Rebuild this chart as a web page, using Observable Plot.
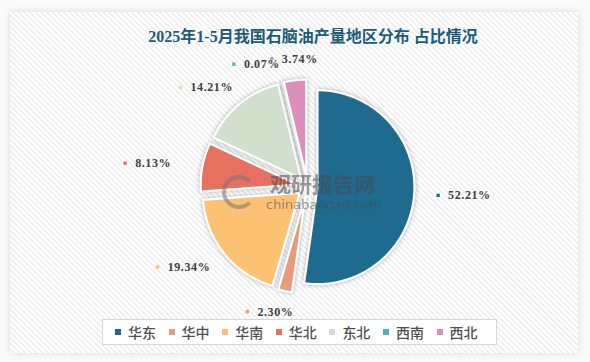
<!DOCTYPE html>
<html>
<head>
<meta charset="utf-8">
<script src="https://cdn.jsdelivr.net/npm/d3@7"></script>
<script src="https://cdn.jsdelivr.net/npm/@observablehq/plot@0.6"></script>
<style>
  html, body { margin: 0; padding: 0; background: #ffffff; }
  #root { position: relative; width: 590px; height: 362px; overflow: hidden; background: #fafafa; }
  #panel { position: absolute; left: 10px; top: 12px; width: 568px; height: 341px;
    background: repeating-linear-gradient(45deg, #ffffff 0px, #ffffff 2px, #ececec 2.6px, #ececec 3.4px, #ffffff 4px);
    box-shadow: 0 0 7px rgba(0,0,0,0.13); }
  #title { position: absolute; left: 18px; top: 27px; width: 590px; text-align: center;
    font-family: "Liberation Serif", "Noto Sans CJK SC", serif; font-weight: bold; font-size: 16px;
    line-height: 20px; color: #1d5b79; }
  #chart { position: absolute; left: 0; top: 0; }
  #wm { position: absolute; left: 222px; top: 168px; opacity: 0.55; color: #4a4a4a; pointer-events: none; }
  #wm .logo { position: absolute; left: 0px; top: 7px; width: 26px; height: 26px; border: 4px solid #777; border-radius: 50%; border-right-color: transparent; }
  #wm .cn { position: absolute; left: 48px; top: 3px; font-family: "Noto Sans CJK SC", sans-serif; font-weight: bold; font-size: 21px; line-height: 25px; white-space: nowrap; }
  #wm .en { position: absolute; left: 44px; top: 30px; font-family: "DejaVu Sans", sans-serif; font-size: 13px; line-height: 14px; white-space: nowrap; }
  #legend { position: absolute; left: 102px; top: 319px; width: 381px; height: 24px; border: 1px solid #d6d6d6; background: #ffffff;
    display: flex; align-items: center; padding-left: 12px; box-sizing: content-box; }
  #legend .item { display: flex; align-items: center; width: 53.6px; font-family: "Noto Sans CJK SC", sans-serif; font-weight: 500; font-size: 14px; line-height: 18px; color: #505050; }
  #legend .sw { width: 6px; height: 6px; margin-right: 7px; flex: none; }
</style>
</head>
<body>
<div id="root">
  <div id="panel"></div>
  <div id="title"></div>
  <div id="chart"></div>
  <div id="wm"><div class="logo"></div><div class="cn">观研报告网</div><div class="en">chinabaogao.com</div></div>
  <div id="legend"></div>
</div>
<script>
// ---- data ----
const titleText = "2025年1-5月我国石脑油产量地区分布 占比情况";
const regions = ["华东", "华中", "华南", "华北", "东北", "西南", "西北"];
const shares = [52.21, 2.30, 19.34, 8.13, 14.21, 0.07, 3.74];
const colors = ["#1e6b8f", "#e89a7b", "#fdc174", "#e8705f", "#d1e0cc", "#4bb3c0", "#db8fba"];

// ---- layout constants ----
const W = 590, H = 362;
const CX = 307, CY = 186;   // pie centre (px)
const R = 97;               // pie radius
const EXPLODE = 10;         // slice offset
const LRX = 158, LRY = 128; // label ellipse radii
const MIN_SEP = 14 * Math.PI / 180;

document.getElementById("title").textContent = titleText;

const rows = regions.map((r, i) => ({region: r, share: shares[i], color: colors[i]}));
const arcs = d3.pie().sort(null).value(d => d.share)(rows);

// slice outlines
const pts = [];
arcs.forEach(a => {
  const mid = (a.startAngle + a.endAngle) / 2;
  const ox = CX + EXPLODE * Math.sin(mid), oy = CY - EXPLODE * Math.cos(mid);
  pts.push({region: a.data.region, x: ox, y: oy});
  const n = Math.max(2, Math.ceil((a.endAngle - a.startAngle) / 0.01));
  for (let k = 0; k <= n; k++) {
    const t = a.startAngle + (a.endAngle - a.startAngle) * k / n;
    pts.push({region: a.data.region, x: ox + R * Math.sin(t), y: oy - R * Math.cos(t)});
  }
});

// label angles, spread apart when too close
const lang = arcs.map(a => (a.startAngle + a.endAngle) / 2);
for (let it = 0; it < 30; it++) {
  for (let i = 1; i < lang.length; i++) {
    const diff = lang[i] - lang[i - 1];
    if (diff < MIN_SEP) {
      const s = (MIN_SEP - diff) / 2;
      lang[i - 1] -= s; lang[i] += s;
    }
  }
}
const labels = arcs.map((a, i) => ({
  region: a.data.region,
  text: a.data.share.toFixed(2) + "%",
  x: CX + LRX * Math.sin(lang[i]),
  y: CY - LRY * Math.cos(lang[i])
}));

const plot = Plot.plot({
  width: W, height: H,
  marginTop: 0, marginRight: 0, marginBottom: 0, marginLeft: 0,
  x: {domain: [0, W], range: [0, W], axis: null},
  y: {domain: [0, H], range: [0, H], axis: null},
  color: {domain: regions, range: colors},
  style: {background: "transparent", overflow: "visible"},
  marks: [
    Plot.line(pts, {x: "x", y: "y", z: "region", fill: "region", stroke: "#ffffff", strokeWidth: 2.2, curve: "linear-closed"}),
    Plot.dot(labels, {x: "x", y: "y", symbol: "square", r: 1.9, fill: "region", dx: -27}),
    Plot.text(labels, {x: "x", y: "y", text: "text", dx: -17, textAnchor: "start",
      fontFamily: "Liberation Serif, serif", fontWeight: "bold", fontSize: 12, fill: "#404040"})
  ]
});
d3.select(plot).selectAll("g[aria-label='line'] path")
  .style("filter", "drop-shadow(0px 0px 2px rgba(0,0,0,0.3))");
d3.select(plot).selectAll("g[aria-label='text'] text").style("letter-spacing", "0.6px");
document.getElementById("chart").appendChild(plot);

// legend
const leg = document.getElementById("legend");
rows.forEach(d => {
  const it = document.createElement("div");
  it.className = "item";
  const sw = document.createElement("div");
  sw.className = "sw"; sw.style.background = d.color;
  const tx = document.createElement("span");
  tx.textContent = d.region;
  it.appendChild(sw); it.appendChild(tx);
  leg.appendChild(it);
});
</script>
</body>
</html>
